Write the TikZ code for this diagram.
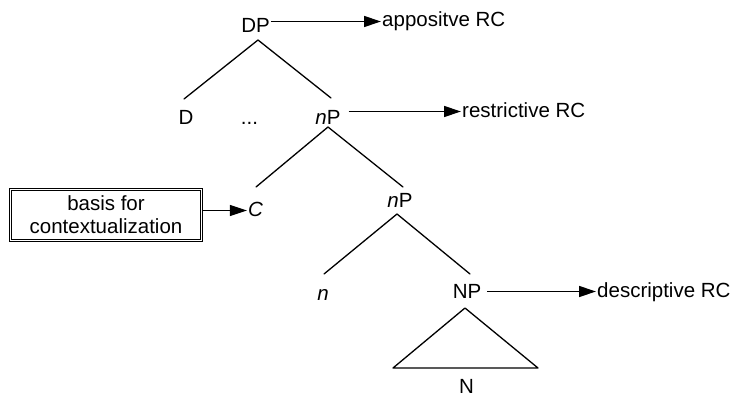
\documentclass[tikz,border=0pt]{standalone}
\usepackage{fontspec}
\setmainfont{Liberation Sans}
\usetikzlibrary{arrows.meta}
\begin{document}
\begin{tikzpicture}[x=1pt,y=-1pt,
  lbl/.style={inner sep=1pt, text height=15pt, text depth=4pt, anchor=base,
    font=\fontsize{20.5}{23}\selectfont},
  branch/.style={line width=1.3pt, line cap=round, line join=round},
  pointer/.style={line width=1.3pt, -{Triangle[length=17pt,width=11pt]}},
  note/.style={draw, double, double distance=1.5pt, line width=0.9pt,
    minimum width=191pt, minimum height=51pt, align=center, inner sep=0pt,
    font=\fontsize{20.5}{23}\selectfont}
]
\useasboundingbox (0,0) rectangle (736,396);

% tree labels
\node[lbl] (DP) at (255.5,33) {DP};
\node[lbl] (D) at (186,124) {D};
\node[lbl] (dots) at (249.5,124) {...};
\node[lbl] (nP) at (328,124) {\textit{n}P};
\node[lbl] (C) at (255.5,216) {\textit{C}};
\node[lbl] (nPb) at (400,207) {\textit{n}P};
\node[lbl] (n) at (323,300) {\textit{n}};
\node[lbl] (NP) at (467,298) {NP};
\node[lbl, text depth=0pt, inner sep=0pt] (N) at (466.5,393) {N};

% relative clause labels
\node[lbl,anchor=base west] (app) at (381,27) {appositve RC};
\node[lbl,anchor=base west] (rrc) at (461,117) {restrictive RC};
\node[lbl,anchor=base west] (drc) at (596,297) {descriptive RC};

% boxed note
\node[note] (basis) at (106,215) {basis for\\contextualization};

% attachment points of the branches
\coordinate (DP-s) at ([shift={(2.5,7)}]DP.base);
\coordinate (D-n) at ([shift={(-2,-25)}]D.base);
\coordinate (nP-n) at ([shift={(3,-26)}]nP.base);
\coordinate (nP-s) at ([shift={(0,3)}]nP.base);
\coordinate (C-n) at ([shift={(0.5,-29)}]C.base);
\coordinate (nPb-n) at ([shift={(3,-20)}]nPb.base);
\coordinate (nPb-s) at ([shift={(-3,7)}]nPb.base);
\coordinate (n-n) at ([shift={(1,-26)}]n.base);
\coordinate (NP-n) at ([shift={(3,-24)}]NP.base);
\coordinate (NP-s) at ([shift={(-2,10)}]NP.base);
\coordinate (N-l) at ([shift={(-73.5,-25)}]N.base);
\coordinate (N-r) at ([shift={(71.5,-25)}]N.base);

% branches
\draw[branch] (D-n) -- (DP-s) -- (nP-n);
\draw[branch] (C-n) -- (nP-s) -- (nPb-n);
\draw[branch] (n-n) -- (nPb-s) -- (NP-n);
\draw[branch] (NP-s) -- (N-l) -- (N-r) -- cycle;

% arrows to the relative clauses
\draw[pointer] (DP.east |- app.west) -- (app.west);
\draw[pointer, shorten <=7pt] (nP.east |- rrc.west) -- (rrc.west);
\draw[pointer, shorten <=5pt] (NP.east |- drc.west) -- (drc.west);
\draw[pointer] (basis.east |- C.west) -- (C.west);
\end{tikzpicture}
\end{document}
